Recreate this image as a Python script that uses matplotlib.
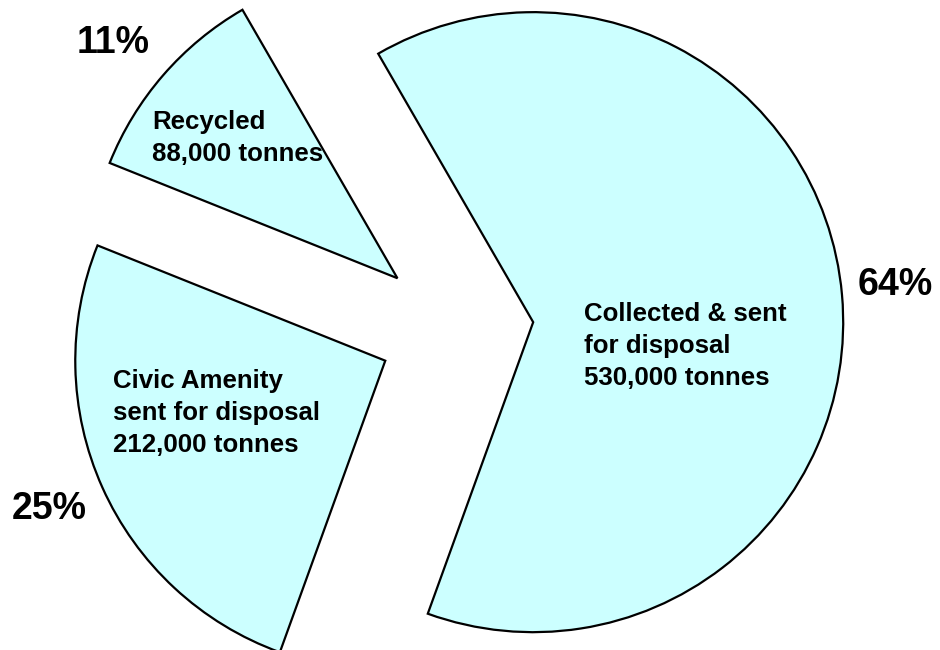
import matplotlib.pyplot as plt

# household waste streams (tonnes)
labels = ["Collected & sent\nfor disposal\n530,000 tonnes",
          "Civic Amenity\nsent for disposal\n212,000 tonnes",
          "Recycled\n88,000 tonnes"]
tonnes = [530000, 212000, 88000]
pct_labels = ["64%", "25%", "11%"]

# label anchors in pixels (x, y from top-left)
label_pos = [(584, 346), (113, 413), (152, 138)]
pct_pos = [(858, 285), (12, 509), (77, 43)]

W, H = 940, 650
plt.rcParams['font.family'] = ['Liberation Sans', 'DejaVu Sans']

fig = plt.figure(figsize=(W / 100, H / 100), dpi=100)
ax = fig.add_axes([0, 0, 1, 1])

wedges, _ = ax.pie(tonnes, startangle=120, counterclock=False,
                   explode=[0.25, 0.25, 0.25], radius=1.0,
                   colors=["#ccffff"] * 3,
                   wedgeprops=dict(edgecolor="black", linewidth=1.6))

# pie centre at (456, 329) px, radius 310 px
cx, cy, r = 456, 329, 310
ax.set_xlim(-cx / r, (W - cx) / r)
ax.set_ylim(-(H - cy) / r, cy / r)
ax.set_aspect('equal')
ax.axis('off')

for txt, (px, py) in zip(labels, label_pos):
    ax.text(px / W, 1 - py / H, txt, transform=ax.transAxes,
            ha='left', va='center', fontsize=18.6, fontweight='bold',
            linespacing=1.42)

for txt, (px, py) in zip(pct_labels, pct_pos):
    ax.text(px / W, 1 - py / H, txt, transform=ax.transAxes,
            ha='left', va='center', fontsize=27, fontweight='bold')

fig.savefig("out.png", dpi=100)
